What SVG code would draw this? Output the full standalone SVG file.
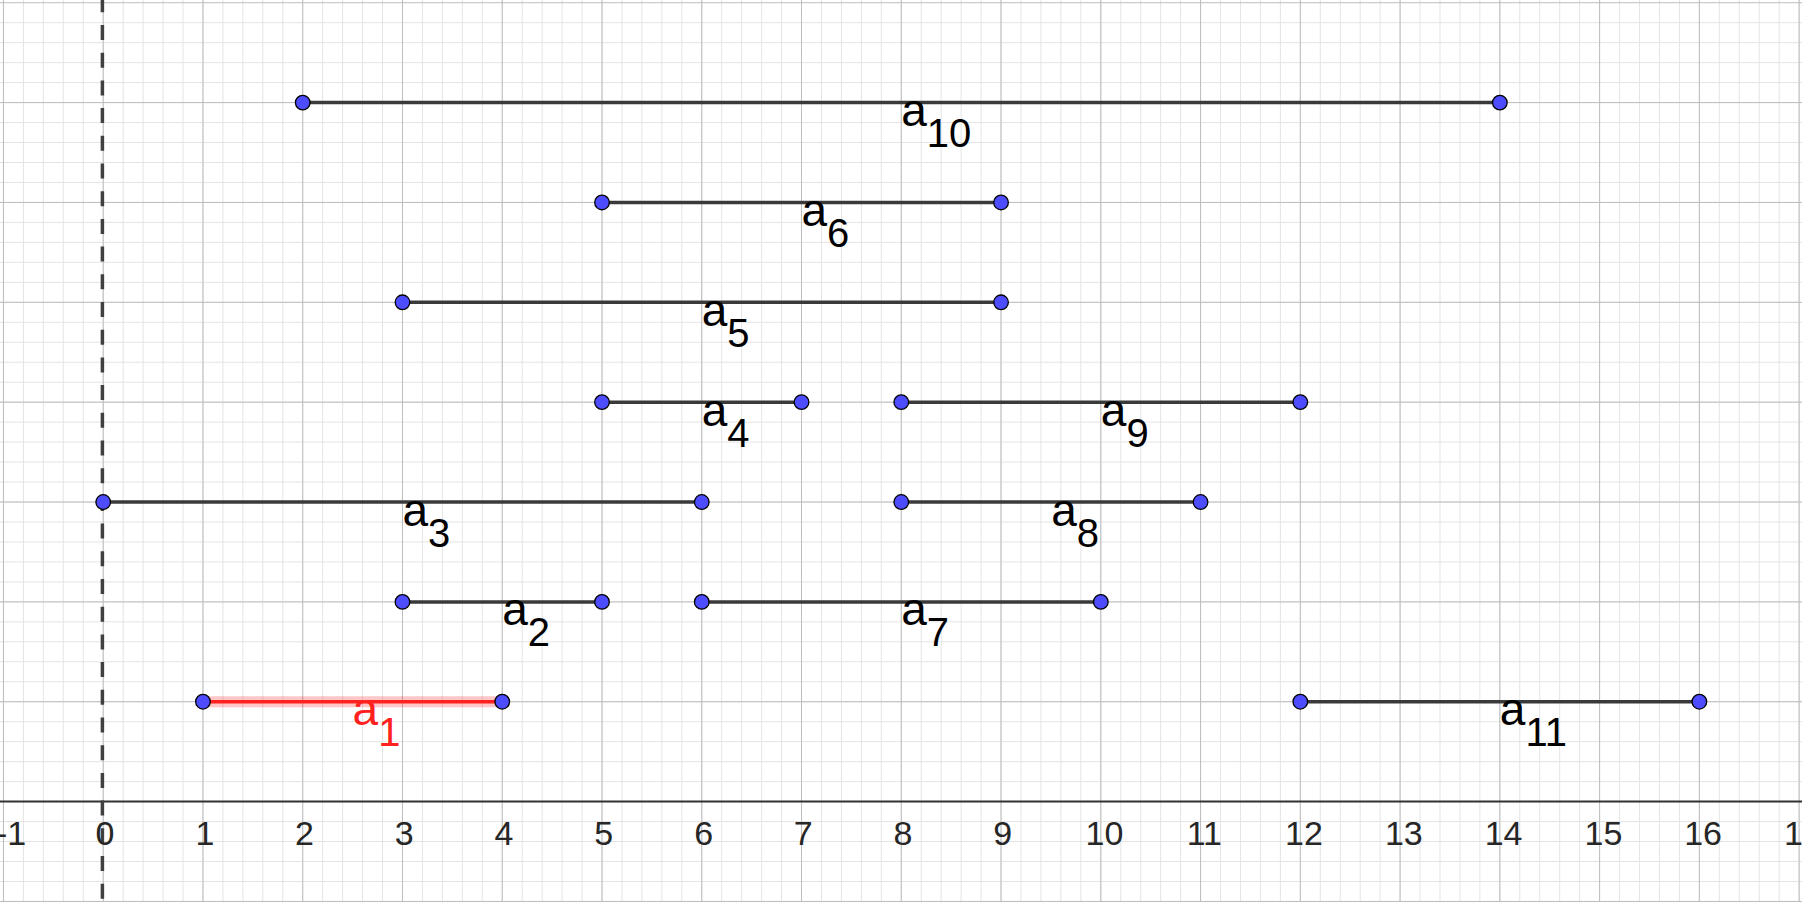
<svg xmlns="http://www.w3.org/2000/svg" width="1802" height="902" viewBox="0 0 1802 902">
<style>
.minor{fill:none;stroke:#e4e4e4;stroke-width:1;vector-effect:non-scaling-stroke}
.major{fill:none;stroke:#bdbdbd;stroke-width:1;vector-effect:non-scaling-stroke}
.seg{stroke:#3a3a3a;stroke-width:3.5;fill:none}
.pt{fill:#4d4dff;stroke:#000;stroke-width:1.3}
.lbl{font-family:"Liberation Sans",Arial,sans-serif;font-size:46px;fill:#000}
.sub{font-size:40px}
.ax{font-family:"Liberation Sans",Arial,sans-serif;font-size:34px;fill:#262626;text-anchor:middle}
</style>
<rect width="1802" height="902" fill="#fff"/>
<g id="grid" transform="translate(103.2 801.6) scale(99.76 -99.86)">
<path class="minor" d="M-1.2-1.1v9.3m.2-9.3v9.3m.2-9.3v9.3m.2-9.3v9.3m.2-9.3v9.3m.2-9.3v9.3m.2-9.3v9.3m.2-9.3v9.3m.2-9.3v9.3m.2-9.3v9.3m.2-9.3v9.3m.2-9.3v9.3m.2-9.3v9.3m.2-9.3v9.3m.2-9.3v9.3m.2-9.3v9.3m.2-9.3v9.3m.2-9.3v9.3m.2-9.3v9.3m.2-9.3v9.3m.2-9.3v9.3m.2-9.3v9.3m.2-9.3v9.3m.2-9.3v9.3m.2-9.3v9.3m.2-9.3v9.3m.2-9.3v9.3m.2-9.3v9.3m.2-9.3v9.3m.2-9.3v9.3m.2-9.3v9.3m.2-9.3v9.3m.2-9.3v9.3m.2-9.3v9.3m.2-9.3v9.3m.2-9.3v9.3m.2-9.3v9.3m.2-9.3v9.3m.2-9.3v9.3m.2-9.3v9.3m.2-9.3v9.3m.2-9.3v9.3m.2-9.3v9.3m.2-9.3v9.3m.2-9.3v9.3m.2-9.3v9.3m.2-9.3v9.3m.2-9.3v9.3m.2-9.3v9.3m.2-9.3v9.3m.2-9.3v9.3m.2-9.3v9.3m.2-9.3v9.3m.2-9.3v9.3m.2-9.3v9.3m.2-9.3v9.3m.2-9.3v9.3m.2-9.3v9.3m.2-9.3v9.3m.2-9.3v9.3m.2-9.3v9.3m.2-9.3v9.3m.2-9.3v9.3m.2-9.3v9.3m.2-9.3v9.3m.2-9.3v9.3m.2-9.3v9.3m.2-9.3v9.3m.2-9.3v9.3m.2-9.3v9.3m.2-9.3v9.3m.2-9.3v9.3m.2-9.3v9.3m.2-9.3v9.3m.2-9.3v9.3m.2-9.3v9.3m.2-9.3v9.3m.2-9.3v9.3m.2-9.3v9.3m.2-9.3v9.3m.2-9.3v9.3m.2-9.3v9.3m.2-9.3v9.3m.2-9.3v9.3m.2-9.3v9.3m.2-9.3v9.3m.2-9.3v9.3m.2-9.3v9.3m.2-9.3v9.3m.2-9.3v9.3m.2-9.3v9.3m.2-9.3v9.3M-1.1-1.2h18.4m-18.4.2h18.4m-18.4.2h18.4m-18.4.2h18.4m-18.4.2h18.4m-18.4.2h18.4m-18.4.2h18.4m-18.4.2h18.4m-18.4.2h18.4m-18.4.2h18.4m-18.4.2h18.4m-18.4.2h18.4m-18.4.2h18.4m-18.4.2h18.4m-18.4.2h18.4m-18.4.2h18.4m-18.4.2h18.4m-18.4.2h18.4m-18.4.2h18.4m-18.4.2h18.4m-18.4.2h18.4m-18.4.2h18.4m-18.4.2h18.4m-18.4.2h18.4m-18.4.2h18.4m-18.4.2h18.4m-18.4.2h18.4m-18.4.2h18.4m-18.4.2h18.4m-18.4.2h18.4m-18.4.2h18.4m-18.4.2h18.4m-18.4.2h18.4m-18.4.2h18.4m-18.4.2h18.4m-18.4.2h18.4m-18.4.2h18.4m-18.4.2h18.4m-18.4.2h18.4m-18.4.2h18.4m-18.4.2h18.4m-18.4.2h18.4m-18.4.2h18.4m-18.4.2h18.4m-18.4.2h18.4m-18.4.2h18.4"/>
<path class="major" d="M-1-1.1v9.3m1-9.3v9.3m1-9.3v9.3m1-9.3v9.3m1-9.3v9.3m1-9.3v9.3m1-9.3v9.3m1-9.3v9.3m1-9.3v9.3m1-9.3v9.3m1-9.3v9.3m1-9.3v9.3m1-9.3v9.3m1-9.3v9.3m1-9.3v9.3m1-9.3v9.3m1-9.3v9.3m1-9.3v9.3m1-9.3v9.3M-1.1-1h18.4m-18.4 1h18.4m-18.4 1h18.4m-18.4 1h18.4m-18.4 1h18.4m-18.4 1h18.4m-18.4 1h18.4m-18.4 1h18.4m-18.4 1h18.4m-18.4 1h18.4"/>
</g>
<g id="axes">
<line x1="0" y1="801.6" x2="1802" y2="801.6" stroke="#333" stroke-width="2"/>
<line x1="102.4" y1="-2.7" x2="102.4" y2="902" stroke="#404040" stroke-width="3.5" stroke-dasharray="15 12.7"/>
<text class="ax" x="11" y="844.5">-1</text>
<text class="ax" x="105" y="844.5">0</text>
<text class="ax" x="205" y="844.5">1</text>
<text class="ax" x="304.5" y="844.5">2</text>
<text class="ax" x="404.3" y="844.5">3</text>
<text class="ax" x="504" y="844.5">4</text>
<text class="ax" x="603.8" y="844.5">5</text>
<text class="ax" x="703.6" y="844.5">6</text>
<text class="ax" x="803.3" y="844.5">7</text>
<text class="ax" x="903" y="844.5">8</text>
<text class="ax" x="1002.8" y="844.5">9</text>
<text class="ax" x="1104.5" y="844.5">10</text>
<text class="ax" x="1204.3" y="844.5">11</text>
<text class="ax" x="1304" y="844.5">12</text>
<text class="ax" x="1403.8" y="844.5">13</text>
<text class="ax" x="1503.6" y="844.5">14</text>
<text class="ax" x="1603.4" y="844.5">15</text>
<text class="ax" x="1703.1" y="844.5">16</text>
<text class="ax" x="1802.9" y="844.5">17</text>
</g>
<g id="connectors">
<line class="seg" x1="302.72" y1="102.58" x2="1499.84" y2="102.58"/>
<line class="seg" x1="602" y1="202.44" x2="1001.04" y2="202.44"/>
<line class="seg" x1="402.48" y1="302.3" x2="1001.04" y2="302.3"/>
<line class="seg" x1="602" y1="402.16" x2="801.52" y2="402.16"/>
<line class="seg" x1="901.28" y1="402.16" x2="1300.32" y2="402.16"/>
<line class="seg" x1="103.2" y1="502.02" x2="701.76" y2="502.02"/>
<line class="seg" x1="901.28" y1="502.02" x2="1200.56" y2="502.02"/>
<line class="seg" x1="402.48" y1="601.88" x2="602" y2="601.88"/>
<line class="seg" x1="701.76" y1="601.88" x2="1100.8" y2="601.88"/>
<line x1="202.96" y1="701.74" x2="502.24" y2="701.74" stroke="#ff0000" stroke-opacity="0.22" stroke-width="11"/>
<line x1="202.96" y1="701.74" x2="502.24" y2="701.74" stroke="#ff2020" stroke-width="3.5"/>
<line class="seg" x1="1300.32" y1="701.74" x2="1699.36" y2="701.74"/>
</g>
<g id="a10"><circle class="pt" cx="302.72" cy="102.58" r="7.3"/><circle class="pt" cx="1499.84" cy="102.58" r="7.3"/><text class="lbl" x="901.28" y="126">a<tspan class="sub" dy="21">10</tspan></text></g>
<g id="a6"><circle class="pt" cx="602" cy="202.44" r="7.3"/><circle class="pt" cx="1001.04" cy="202.44" r="7.3"/><text class="lbl" x="801.52" y="226">a<tspan class="sub" dy="21">6</tspan></text></g>
<g id="a5"><circle class="pt" cx="402.48" cy="302.3" r="7.3"/><circle class="pt" cx="1001.04" cy="302.3" r="7.3"/><text class="lbl" x="701.76" y="325.8">a<tspan class="sub" dy="21">5</tspan></text></g>
<g id="a4"><circle class="pt" cx="602" cy="402.16" r="7.3"/><circle class="pt" cx="801.52" cy="402.16" r="7.3"/><text class="lbl" x="701.76" y="425.7">a<tspan class="sub" dy="21">4</tspan></text></g>
<g id="a9"><circle class="pt" cx="901.28" cy="402.16" r="7.3"/><circle class="pt" cx="1300.32" cy="402.16" r="7.3"/><text class="lbl" x="1100.8" y="425.7">a<tspan class="sub" dy="21">9</tspan></text></g>
<g id="a3"><circle class="pt" cx="103.2" cy="502.02" r="7.3"/><circle class="pt" cx="701.76" cy="502.02" r="7.3"/><text class="lbl" x="402.48" y="525.5">a<tspan class="sub" dy="21">3</tspan></text></g>
<g id="a8"><circle class="pt" cx="901.28" cy="502.02" r="7.3"/><circle class="pt" cx="1200.56" cy="502.02" r="7.3"/><text class="lbl" x="1051.16" y="525.5">a<tspan class="sub" dy="21">8</tspan></text></g>
<g id="a2"><circle class="pt" cx="402.48" cy="601.88" r="7.3"/><circle class="pt" cx="602" cy="601.88" r="7.3"/><text class="lbl" x="502.24" y="625.4">a<tspan class="sub" dy="21">2</tspan></text></g>
<g id="a7"><circle class="pt" cx="701.76" cy="601.88" r="7.3"/><circle class="pt" cx="1100.8" cy="601.88" r="7.3"/><text class="lbl" x="901.28" y="625.4">a<tspan class="sub" dy="21">7</tspan></text></g>
<g id="a1"><circle class="pt" cx="202.96" cy="701.74" r="7.3"/><circle class="pt" cx="502.24" cy="701.74" r="7.3"/><text class="lbl" x="352.6" y="725.2" style="fill:#ff2020">a<tspan class="sub" dy="21">1</tspan></text></g>
<g id="a11"><circle class="pt" cx="1300.32" cy="701.74" r="7.3"/><circle class="pt" cx="1699.36" cy="701.74" r="7.3"/><text class="lbl" x="1499.84" y="725.2">a<tspan class="sub" dy="21">11</tspan></text></g>
</svg>
